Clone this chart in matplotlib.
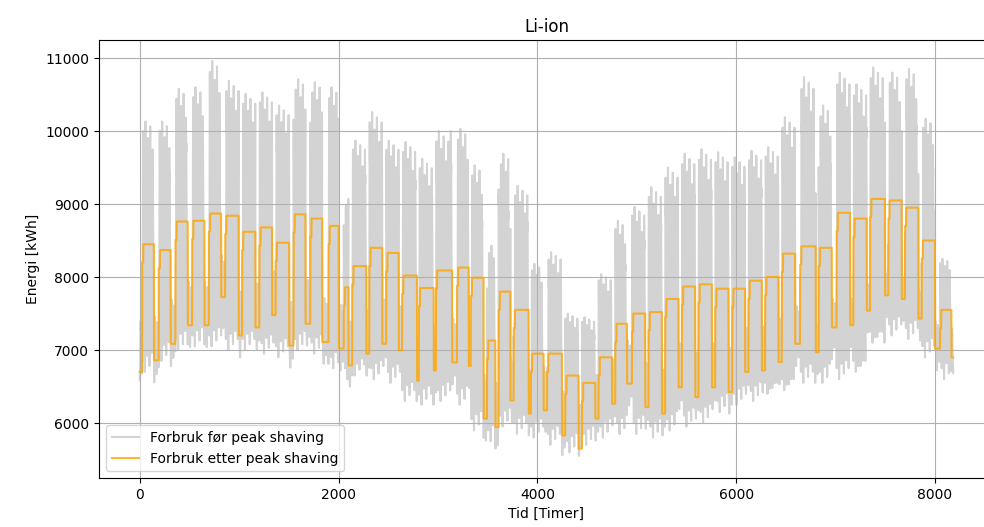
import numpy as np
import matplotlib
matplotlib.use("Agg")
import matplotlib.pyplot as plt

# Timeserie lest av figuren: en blokk per arbeidsuke (start/slutt i timer),
# helg mellom blokkene. Nivaaer i kWh.
antall_timer = 8184

hverdag_fra = [24, 192, 360, 528, 696, 860, 1030, 1204, 1368, 1548,
               1716, 1900, 2053, 2138, 2310, 2480, 2640, 2808, 2980, 3192,
               3330, 3494, 3611, 3762, 3935, 4098, 4281, 4449, 4616, 4784,
               4952, 5119, 5286, 5454, 5621, 5789, 5960, 6124, 6291, 6459,
               6643, 6830, 7010, 7179, 7347, 7531, 7698, 7866, 8050]
hverdag_til = [144, 312, 484, 652, 820, 996, 1164, 1332, 1504, 1668,
               1836, 2003, 2100, 2280, 2440, 2606, 2790, 2958, 3143, 3310,
               3460, 3578, 3729, 3913, 4063, 4248, 4415, 4583, 4751, 4902,
               5085, 5253, 5420, 5588, 5756, 5923, 6090, 6258, 6425, 6593,
               6800, 6962, 7146, 7313, 7497, 7665, 7832, 8000, 8165]

# forbruk etter peak shaving
etter_hverdag = [8450, 8370, 8760, 8770, 8870, 8840, 8620, 8680, 8470, 8860,
                 8800, 8700, 7860, 8150, 8400, 8330, 8020, 7850, 8090, 8130,
                 7990, 7130, 7800, 7550, 6950, 6950, 6650, 6550, 6900, 7360,
                 7500, 7520, 7700, 7870, 7900, 7840, 7840, 7950, 8000, 8320,
                 8420, 8400, 8880, 8800, 9070, 9050, 8950, 8500, 7550]
etter_helg = [6860, 7085, 7340, 7340, 7725, 7200, 7310, 7480, 7060, 7360,
              7110, 7020, 6790, 6950, 7085, 6995, 6580, 6720, 6830, 6780,
              6060, 5945, 6310, 6130, 6175, 5830, 5650, 6060, 6265, 6540,
              6220, 6130, 6490, 6355, 6490, 6425, 6700, 6720, 6835, 7085,
              6970, 7310, 7340, 7540, 7750, 7700, 7430, 7020, 6900]
etter_start = 6700
# mandag morgen ligger kurven litt under platået (kWh under)
etter_mandag = 250

# forbruk foer peak shaving
for_topp = [10130, 10130, 10580, 10600, 10960, 10690, 10510, 10530, 10350, 10710,
            10670, 10600, 9070, 9870, 10260, 9870, 9850, 9620, 10000, 10030,
            9530, 8430, 9690, 9250, 8180, 8340, 7500, 7450, 8040, 8770,
            8960, 9230, 9500, 9690, 9750, 9710, 9640, 9730, 9780, 10190,
            10740, 10350, 10800, 10640, 10870, 10800, 10850, 10170, 8250]
for_bunn = [6700, 6850, 7000, 7050, 7050, 7000, 7000, 6950, 6900, 7000,
            6950, 6750, 6600, 6650, 6600, 6550, 6300, 6250, 6300, 6250,
            5900, 5750, 5950, 5850, 5800, 5700, 5600, 5700, 5800, 5850,
            5850, 5800, 5900, 5950, 6000, 6150, 6250, 6300, 6400, 6450,
            6550, 6550, 6600, 6700, 7100, 7200, 7150, 6900, 6600]
for_helg_topp = [7460, 7690, 7940, 7940, 8300, 7800, 7910, 8080, 7660, 7960,
                 7710, 7620, 7390, 7550, 7690, 7600, 7180, 7320, 7430, 7380,
                 6660, 6550, 6910, 6730, 6780, 6430, 6250, 6660, 6870, 7140,
                 6820, 6730, 7090, 6960, 7090, 7030, 7300, 7320, 7430, 7600,
                 7400, 7700, 7700, 7900, 8100, 8050, 7850, 7400, 7300]
for_helg_bunn = [6560, 6780, 7040, 7040, 7300, 6900, 7010, 7100, 6760, 7060,
                 6810, 6720, 6500, 6650, 6780, 6700, 6280, 6420, 6530, 6480,
                 5760, 5650, 6010, 5830, 5880, 5560, 5550, 5760, 5970, 6240,
                 5920, 5830, 6190, 6060, 6190, 6130, 6400, 6420, 6530, 6780,
                 6670, 7000, 7040, 7240, 7450, 7400, 7130, 6720, 6600]
for_start = (6580, 7400)

# andel av dagens spenn (bunn -> topp) time for time
dogn_profil = [0.1, 0.05, 0.02, 0.0, 0.04, 0.15, 0.38, 0.62, 0.8, 0.92, 1.0, 0.9,
               0.84, 0.88, 0.8, 0.7, 0.58, 0.46, 0.38, 0.33, 0.28, 0.22, 0.17, 0.12]
# topp per ukedag (andel) og ekstra nattbunn per ukedag (kWh)
ukedag_faktor = [0.96, 1.0, 0.93, 0.98, 0.88]
ukedag_natt = [150, 0, 220, 80, 260]


def fyll(serie, fra, til, bunn, topp, faktorer, natt):
    for h in range(fra, til):
        d = ((h - fra) // 24) % len(faktorer)
        lav = bunn + natt[d]
        serie[h] = lav + (topp - lav) * dogn_profil[h % 24] * faktorer[d]


timer = np.arange(antall_timer)
for_ps = np.zeros(antall_timer)
etter_ps = np.zeros(antall_timer)

fyll(for_ps, 0, hverdag_fra[0], for_start[0], for_start[1], [1.0], [0])
etter_ps[:hverdag_fra[0]] = etter_start
for i in range(len(hverdag_fra)):
    slutt_helg = hverdag_fra[i + 1] if i + 1 < len(hverdag_fra) else antall_timer
    fyll(for_ps, hverdag_fra[i], hverdag_til[i], for_bunn[i], for_topp[i],
         ukedag_faktor, ukedag_natt)
    fyll(for_ps, hverdag_til[i], slutt_helg, for_helg_bunn[i], for_helg_topp[i],
         [1.0, 0.9], [0, 120])
    etter_ps[hverdag_fra[i]:hverdag_til[i]] = etter_hverdag[i]
    etter_ps[hverdag_fra[i]:hverdag_fra[i] + 12] = etter_hverdag[i] - etter_mandag
    etter_ps[hverdag_til[i]:slutt_helg] = etter_helg[i]

fig = plt.figure(figsize=(9.84, 5.27), dpi=100)
ax = fig.add_axes([99 / 984, 49 / 527, 895 / 984, 438 / 527])
ax.plot(timer, for_ps, color='lightgrey', label='Forbruk før peak shaving', zorder=1)
ax.plot(timer, etter_ps, color='orange', alpha=0.8, label='Forbruk etter peak shaving', zorder=2)
ax.grid(True)
ax.set_xlim(-409, 8593)
ax.set_ylim(5247, 11247)
ax.set_title('Li-ion')
ax.set_xlabel('Tid [Timer]')
ax.set_ylabel('Energi [kWh]')
ax.legend(loc='lower left')
fig.savefig('out.png', dpi=100)
